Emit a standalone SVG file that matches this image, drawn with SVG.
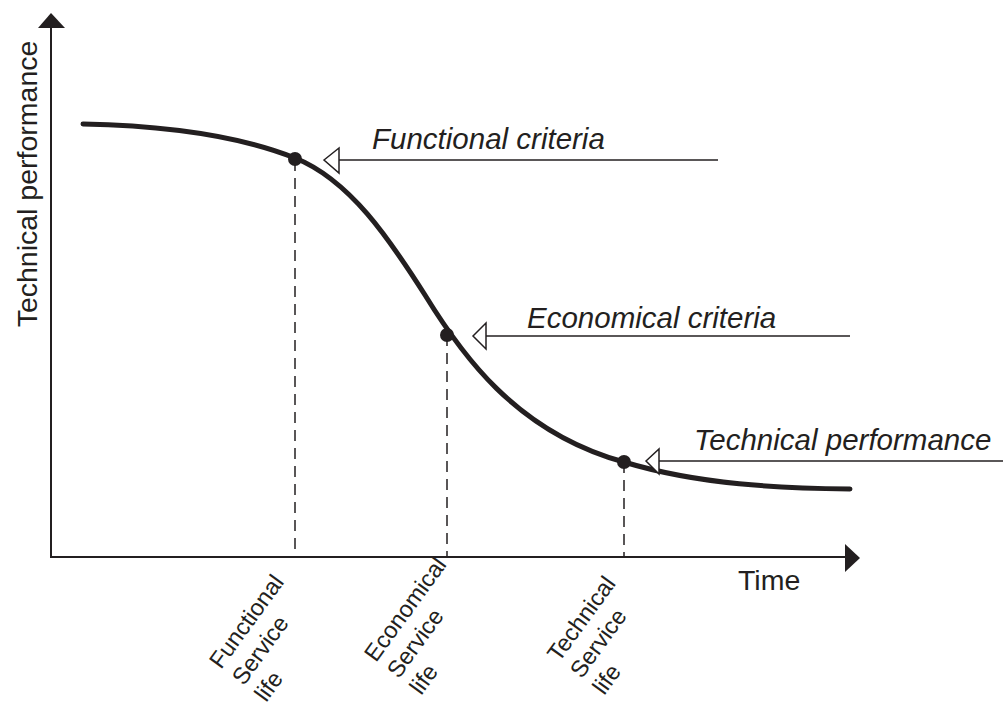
<svg xmlns="http://www.w3.org/2000/svg" width="1003" height="702" viewBox="0 0 1003 702">
<style>
.t{font-family:"Liberation Sans",Arial,sans-serif;fill:#231f20}
.lab{font-size:29.5px;font-style:italic}
.ax{font-size:28.5px}
.rot{font-size:23.5px}
.axis{stroke:#231f20;stroke-width:2;fill:none}
.dash{stroke:#231f20;stroke-width:1.5;stroke-dasharray:11 7;fill:none}
.lead{stroke:#231f20;stroke-width:1.5;fill:none}
.open{fill:#fff;stroke:#231f20;stroke-width:1.5}
.dot{fill:#231f20}
</style>
<rect width="1003" height="702" fill="#fff"/>
<g id="axes">
<path class="axis" d="M51,26 V557 H847"/>
<polygon points="51,13 38,28 65,28" fill="#231f20"/>
<polygon points="860,558 845,544 845,572" fill="#231f20"/>
<text class="t ax" transform="translate(37,184) rotate(-90)" text-anchor="middle">Technical performance</text>
<text class="t ax" x="738" y="590">Time</text>
</g>
<g id="curve">
<path d="M83,124 C180,126 250,140 295,158 C350,180 390,240 425,295 C460,352 515,432 624,462 C700,485 780,488 850,489" fill="none" stroke="#231f20" stroke-width="5" stroke-linecap="round"/>
</g>
<g id="connectors">
<path class="dash" d="M295,160 V557"/>
<path class="dash" d="M447,335 V557"/>
<path class="dash" d="M624,462 V557"/>
<path class="lead" d="M339,160 H718"/>
<path class="lead" d="M486,336 H850"/>
<path class="lead" d="M659,461 H1003"/>
<polygon class="open" points="324,160 339,148 339,173"/>
<polygon class="open" points="473,336 486,323 486,349"/>
<polygon class="open" points="646,461 659,449 659,474"/>
</g>
<g id="functional-point">
<circle class="dot" cx="295" cy="159" r="7"/>
<text class="t lab" x="372" y="149">Functional criteria</text>
<g transform="translate(221,670) rotate(-54)"><text class="t rot"><tspan x="0" y="0">Functional</tspan><tspan x="0" y="28">Service</tspan><tspan x="0" y="56">life</tspan></text></g>
</g>
<g id="economical-point">
<circle class="dot" cx="447" cy="335" r="7"/>
<text class="t lab" x="527" y="328">Economical criteria</text>
<g transform="translate(376,663) rotate(-54)"><text class="t rot"><tspan x="0" y="0">Economical</tspan><tspan x="0" y="28">Service</tspan><tspan x="0" y="56">life</tspan></text></g>
</g>
<g id="technical-point">
<circle class="dot" cx="624" cy="462" r="7"/>
<text class="t lab" x="694" y="450">Technical performance</text>
<g transform="translate(559,663) rotate(-54)"><text class="t rot"><tspan x="0" y="0">Technical</tspan><tspan x="0" y="28">Service</tspan><tspan x="0" y="56">life</tspan></text></g>
</g>
</svg>
